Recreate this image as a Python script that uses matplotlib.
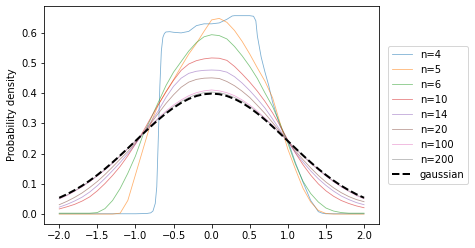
import numpy as np
import matplotlib
matplotlib.use("Agg")
import matplotlib.pyplot as plt

# common x grid (step 0.1) for the smooth series
x_grid = [round(-2.0 + 0.1 * i, 1) for i in range(41)]

# n=4 has sharp edges -> own x positions
x_n4 = [-2.0, -1.0, -0.85, -0.8, -0.77, -0.74, -0.72, -0.70, -0.68, -0.66, -0.64,
        -0.62, -0.6, -0.55, -0.5, -0.4, -0.3, -0.2, -0.1, 0.0, 0.1, 0.2, 0.27, 0.3,
        0.4, 0.5, 0.55, 0.58, 0.6, 0.65, 0.7, 0.75, 0.8, 0.85, 0.9, 1.0, 1.1, 1.2,
        1.3, 1.35, 1.4, 1.45, 1.5, 2.0]
y_n4 = [0.001, 0.001, 0.002, 0.004, 0.010, 0.035, 0.090, 0.250, 0.420, 0.540, 0.585,
        0.598, 0.603, 0.604, 0.602, 0.600, 0.605, 0.624, 0.630, 0.630, 0.633, 0.645, 0.656, 0.657,
        0.657, 0.657, 0.655, 0.640, 0.590, 0.520, 0.470, 0.425, 0.370, 0.330, 0.290, 0.243, 0.170, 0.105,
        0.045, 0.027, 0.008, 0.003, 0.001, 0.001]

y_n5 = [0.0, 0.0, 0.0, 0.0, 0.0, 0.0, 0.0, 0.0, 0.003, 0.045,
        0.130, 0.215, 0.300, 0.362, 0.405, 0.445, 0.488, 0.530, 0.565, 0.605,
        0.643,
        0.648, 0.635, 0.608, 0.572, 0.530, 0.484, 0.440, 0.385, 0.300, 0.215,
        0.148, 0.085, 0.040, 0.012, 0.002, 0.0, 0.0, 0.0, 0.0, 0.0]

y_n6 = [0.003, 0.003, 0.003, 0.003, 0.003, 0.005, 0.018, 0.045, 0.085, 0.135,
        0.192, 0.262, 0.315, 0.370, 0.425, 0.470, 0.505, 0.540, 0.568, 0.587,
        0.594,
        0.591, 0.580, 0.555, 0.524, 0.489, 0.449, 0.401, 0.356, 0.298, 0.235,
        0.165, 0.108, 0.068, 0.040, 0.020, 0.010, 0.005, 0.003, 0.003, 0.003]

y_n10 = [0.017, 0.024, 0.032, 0.043, 0.057, 0.077, 0.101, 0.128, 0.158, 0.193,
         0.232, 0.273, 0.318, 0.362, 0.404, 0.443, 0.476, 0.497, 0.508, 0.514,
         0.517,
         0.516, 0.509, 0.489, 0.464, 0.437, 0.407, 0.373, 0.335, 0.292, 0.245,
         0.202, 0.163, 0.129, 0.100, 0.077, 0.059, 0.045, 0.035, 0.027, 0.021]

y_n14 = [0.023, 0.032, 0.043, 0.056, 0.073, 0.094, 0.118, 0.144, 0.171, 0.200,
         0.232, 0.267, 0.304, 0.342, 0.386, 0.423, 0.450, 0.466, 0.473, 0.476,
         0.477,
         0.476, 0.470, 0.455, 0.434, 0.409, 0.381, 0.351, 0.315, 0.277, 0.240,
         0.204, 0.172, 0.143, 0.117, 0.095, 0.076, 0.060, 0.048, 0.038, 0.031]

y_n20 = [0.031, 0.042, 0.055, 0.070, 0.088, 0.108, 0.131, 0.156, 0.182, 0.207,
         0.236, 0.267, 0.300, 0.333, 0.366, 0.395, 0.420, 0.437, 0.446, 0.450,
         0.451,
         0.449, 0.439, 0.425, 0.407, 0.386, 0.360, 0.333, 0.303, 0.272, 0.240,
         0.209, 0.180, 0.153, 0.128, 0.106, 0.087, 0.071, 0.058, 0.048, 0.041]

y_n100 = [0.050, 0.061, 0.075, 0.090, 0.107, 0.126, 0.146, 0.168, 0.192, 0.216,
          0.242, 0.268, 0.294, 0.318, 0.341, 0.361, 0.378, 0.392, 0.402, 0.408,
          0.411,
          0.408, 0.402, 0.392, 0.378, 0.361, 0.341, 0.318, 0.294, 0.268, 0.242,
          0.216, 0.192, 0.168, 0.146, 0.126, 0.107, 0.090, 0.075, 0.061, 0.051]

y_n200 = [0.052, 0.063, 0.077, 0.092, 0.109, 0.128, 0.148, 0.170, 0.193, 0.217,
          0.242, 0.267, 0.292, 0.315, 0.337, 0.356, 0.373, 0.386, 0.396, 0.402,
          0.404,
          0.402, 0.396, 0.386, 0.373, 0.356, 0.337, 0.315, 0.292, 0.267, 0.242,
          0.217, 0.193, 0.170, 0.148, 0.128, 0.109, 0.092, 0.077, 0.063, 0.053]

y_gauss = [0.0540, 0.0656, 0.0790, 0.0940, 0.1109, 0.1295, 0.1497, 0.1714, 0.1942, 0.2179,
           0.2420, 0.2661, 0.2897, 0.3123, 0.3332, 0.3521, 0.3683, 0.3814, 0.3910, 0.3970,
           0.3989,
           0.3970, 0.3910, 0.3814, 0.3683, 0.3521, 0.3332, 0.3123, 0.2897, 0.2661, 0.2420,
           0.2179, 0.1942, 0.1714, 0.1497, 0.1295, 0.1109, 0.0940, 0.0790, 0.0656, 0.0540]

labels = ["n=4", "n=5", "n=6", "n=10", "n=14", "n=20", "n=100", "n=200"]

fig = plt.figure(figsize=(475 / 72, 248 / 72), dpi=72)
ax = fig.add_axes([0.0926, 0.0968, 0.7059, 0.880])

series = [(x_n4, y_n4)] + [(x_grid, y) for y in
                           [y_n5, y_n6, y_n10, y_n14, y_n20, y_n100, y_n200]]
colors = plt.rcParams['axes.prop_cycle'].by_key()['color']
for i, ((xs, ys), lab) in enumerate(zip(series, labels)):
    ax.plot(xs, ys, color=colors[i], lw=0.8, alpha=0.6, label=lab)

ax.plot(x_grid, y_gauss, 'k--', lw=2, label="gaussian")

ax.set_ylabel("Probability density")
ax.set_xticks(np.arange(-2.0, 2.01, 0.5))
ax.legend(loc="center left", bbox_to_anchor=(1.01, 0.5))

fig.savefig("out.png", dpi=72)
